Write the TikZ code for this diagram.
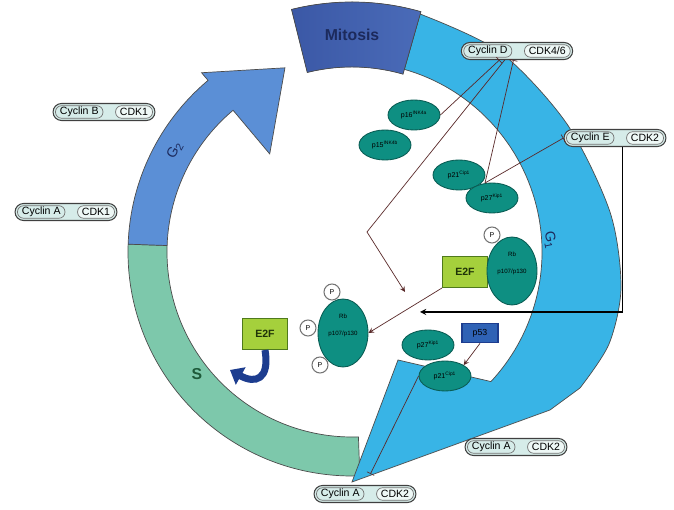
\documentclass[tikz,border=0pt]{standalone}
\usepackage{fontspec}
\setmainfont{Liberation Sans}
\usetikzlibrary{shapes.geometric,arrows.meta}

\definecolor{mitoseblau}{HTML}{3B58A6}
\definecolor{mitosehell}{HTML}{4A6BB8}
\definecolor{mitosetext}{HTML}{1C2A5C}
\definecolor{gzweiblau}{HTML}{5B8FD6}
\definecolor{geinsblau}{HTML}{38B4E6}
\definecolor{sgruen}{HTML}{7DC8AB}
\definecolor{stext}{HTML}{1E5A3A}
\definecolor{ckigruen}{HTML}{0E8F82}
\definecolor{ckirand}{HTML}{0A5D54}
\definecolor{efgruen}{HTML}{A5D03C}
\definecolor{efrand}{HTML}{4F7A1C}
\definecolor{eftext}{HTML}{1F3308}
\definecolor{pdreiblau}{HTML}{2F62B5}
\definecolor{pfeilblau}{HTML}{1D3D8F}
\definecolor{pillfill}{HTML}{D6ECE9}
\definecolor{pillhell}{HTML}{EEF8F6}
\definecolor{linienbraun}{HTML}{5A2A2A}

% Cyclin/CDK-Kapsel: Name, Position, Cyclin, CDK
\newcommand{\cyclab}[4]{%
  \node[pill] (#1) at (#2) {\phantom{#3}\hspace{12pt}\phantom{#4}};
  \node[cycA, anchor=west] (#1a) at ([xshift=1.5pt]#1.west) {#3};
  \node[cycB, anchor=east] (#1b) at ([xshift=-1.5pt]#1.east) {#4};
}

\begin{document}
\begin{tikzpicture}[
        x=0.02cm, y=0.02cm,
        >=stealth,
        fase/.style={draw=black!70, line width=0.4pt},
        cki/.style={ellipse, draw=ckirand, fill=ckigruen, line width=0.5pt, minimum width=1.04cm, minimum height=0.6cm, inner sep=0pt, font=\fontsize{4}{5}\selectfont},
        pocket/.style={ellipse, draw=ckirand, fill=ckigruen, line width=0.5pt, minimum width=1cm, minimum height=1.36cm, inner sep=0pt, align=center, font=\fontsize{3.5}{4.5}\selectfont},
        efbox/.style={rectangle, draw=efrand, fill=efgruen, line width=0.6pt, minimum width=0.9cm, minimum height=0.62cm, font=\bfseries\fontsize{6}{7}\selectfont, text=eftext},
        phos/.style={circle, draw=black!55, fill=white, line width=0.6pt, minimum size=0.32cm, inner sep=0pt, font=\fontsize{4}{5}\selectfont},
        pill/.style={rectangle, rounded corners=0.17cm, draw=black!75, fill=pillfill, line width=0.6pt, minimum height=0.34cm, inner xsep=4pt, inner ysep=0pt, font=\fontsize{6}{7}\selectfont},
        cycA/.style={rectangle, rounded corners=0.12cm, draw=black!55, fill=pillfill, minimum height=0.25cm, inner xsep=2.5pt, inner ysep=0pt, font=\fontsize{6}{7}\selectfont},
        cycB/.style={cycA, fill=pillhell},
        hemm/.style={draw=linienbraun, line width=0.4pt, -|},
        akt/.style={draw=linienbraun, line width=0.4pt, ->}
    ]

        \fill[white] (0,0) rectangle (674,510);
        \useasboundingbox (0,0) rectangle (674,510);

        % ==================================================
        % ZELLZYKLUS
        % ==================================================

        \begin{scope}[shift={(352,258)}]
            % S
            \filldraw[fase, fill=sgruen] (178:185) arc[start angle=178, end angle=272, radius=185]
                -- (272:224) arc[start angle=272, end angle=178, radius=224] -- cycle;
            % G2
            \filldraw[fase, fill=gzweiblau] (178:185) arc[start angle=178, end angle=130, radius=185]
                -- (130:128) -- (110:196) -- (130:234) -- (130:224)
                arc[start angle=130, end angle=178, radius=224] -- cycle;
            % G1
            \filldraw[fase, fill=geinsblau] (74:190) arc[start angle=74, end angle=-43, radius=190]
                -- (46,-108) -- (0,-230) -- (198,-158)
                -- plot[smooth] coordinates {(228,-136) (257,-92) (269,-35) (258,40) (215,128) (148,200) (68,238)}
                -- cycle;
            % Mitose
            \filldraw[fase, left color=mitoseblau, right color=mitosehell] (74:185) arc[start angle=74, end angle=104, radius=185]
                -- (104:250) arc[start angle=104, end angle=74, radius=250] -- cycle;
        \end{scope}

        \node[font=\bfseries\fontsize{9}{10}\selectfont, text=mitosetext] (mit) at (352,475) {Mitosis};
        \node[font=\fontsize{8}{9}\selectfont, text=mitosetext, rotate=-78] (geins) at (550,270) {G\textsubscript{1}};
        \node[font=\fontsize{8}{9}\selectfont, text=mitosetext, rotate=62] (gzwei) at (175,360) {G\textsubscript{2}};
        \node[font=\bfseries\fontsize{9}{10}\selectfont, text=stext] (sphase) at (197,136) {S};

        % Cyclin/CDK
        \cyclab{cD}{517,459}{Cyclin D}{CDK4/6}
        \cyclab{cE}{615,372}{Cyclin E}{CDK2}
        \cyclab{cB}{104,398}{Cyclin B}{CDK1}
        \cyclab{cAl}{66,298}{Cyclin A}{CDK1}
        \cyclab{cAr}{516,63}{Cyclin A}{CDK2}
        \cyclab{cAb}{365,16}{Cyclin A}{CDK2}

        % CKI
        \node[cki] (p16) at (414,395) {p16\textsuperscript{INK4a}};
        \node[cki] (p15) at (385,365) {p15\textsuperscript{INK4b}};
        \node[cki] (p21a) at (459,335) {p21\textsuperscript{Cip1}};
        \node[cki] (p27a) at (492,312) {p27\textsuperscript{Kip1}};
        \node[cki] (p27b) at (428,165) {p27\textsuperscript{Kip1}};
        \node[cki] (p21b) at (445,134) {p21\textsuperscript{Cip1}};

        % Rb und E2F
        \node[efbox] (e2fR) at (465,238) {E2F};
        \node[pocket] (rbR) at (512,239) {Rb\\[5pt]p107/p130\\[5pt]\phantom{Rb}};
        \node[phos] (pR) at (492,275) {P};

        \node[efbox] (e2fL) at (265,176) {E2F};
        \node[pocket] (rbL) at (343,177) {Rb\\[5pt]p107/p130\\[5pt]\phantom{Rb}};
        \node[phos] (pL1) at (332,218) {P};
        \node[phos] (pL2) at (308,182) {P};
        \node[phos] (pL3) at (320,145) {P};

        \node[rectangle, draw=pfeilblau, fill=pdreiblau, line width=0.6pt, minimum width=0.72cm, minimum height=0.38cm, font=\fontsize{5}{6}\selectfont, text=black] (p53) at (480,177) {p53};

        % Verbindungen
        \coordinate (knick) at (367,278);
        \coordinate (ziel) at (405,218);
        \coordinate (kreuz) at (485,327);
        \coordinate (pfeilE) at (420,198);

        \draw[akt] ([xshift=-7pt]cD.south) -- (knick) -- (ziel);
        \draw[hemm] (p16.east) -- ([xshift=-10pt]cD.south);
        \draw[hemm] (kreuz) -- ([xshift=-2pt]cD.south);
        \draw[hemm] (kreuz) -- (cE.west);
        \draw[->, line width=0.6pt] ([xshift=4pt]cE.south) |- (pfeilE);
        \draw[akt] (e2fR.south west) -- (rbL.east);
        \draw[hemm, shorten >=7pt] (p21b.west) -- (cAb.north);
        \draw[akt] (p53.south) -- (p21b.north east);
        \draw[line width=4pt, draw=pfeilblau, -{Triangle[length=7pt, width=11pt]}] (e2fL.south) .. controls (270,130) and (255,126) .. (230,140);
    \end{tikzpicture}
\end{document}
